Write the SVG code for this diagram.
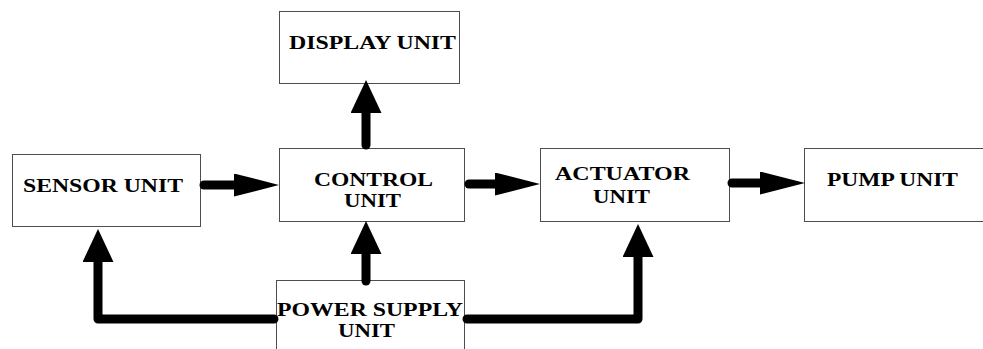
<svg xmlns="http://www.w3.org/2000/svg" width="983" height="349" viewBox="0 0 983 349">
<style>
.box{fill:#fff;stroke:#4d4d4d;stroke-width:1}
.lbl{font-family:"Liberation Serif","Times New Roman",serif;font-weight:bold;font-size:18px;fill:#000}
.wire{fill:none;stroke:#000;stroke-width:9;stroke-linecap:round;stroke-linejoin:round}
</style>
<defs>
<marker id="hh" markerUnits="userSpaceOnUse" viewBox="0 0 45 23" refX="5" refY="11.5" markerWidth="45" markerHeight="23" orient="auto">
<path d="M0,0 L45,11.5 L0,23 Z" fill="#000"/>
</marker>
<marker id="hv" markerUnits="userSpaceOnUse" viewBox="0 0 33 31" refX="5" refY="15.5" markerWidth="33" markerHeight="31" orient="auto">
<path d="M0,0 L33,15.5 L0,31 Z" fill="#000"/>
</marker>
</defs>
<rect width="983" height="349" fill="#fff"/>
<g id="display">
<rect class="box" x="279.5" y="11.5" width="180" height="72"/>
<text class="lbl" x="289" y="49" textLength="167" lengthAdjust="spacingAndGlyphs">DISPLAY UNIT</text>
</g>
<g id="sensor">
<rect class="box" x="12.5" y="154.5" width="188" height="72"/>
<text class="lbl" x="23" y="192" textLength="160" lengthAdjust="spacingAndGlyphs">SENSOR UNIT</text>
</g>
<g id="control">
<rect class="box" x="279.5" y="148.5" width="185" height="73"/>
<text class="lbl" x="314" y="186" textLength="119" lengthAdjust="spacingAndGlyphs">CONTROL</text>
<text class="lbl" x="344" y="207" textLength="57" lengthAdjust="spacingAndGlyphs">UNIT</text>
</g>
<g id="actuator">
<rect class="box" x="540.5" y="148.5" width="189" height="73"/>
<text class="lbl" x="555" y="180" textLength="135" lengthAdjust="spacingAndGlyphs">ACTUATOR</text>
<text class="lbl" x="593" y="203" textLength="57" lengthAdjust="spacingAndGlyphs">UNIT</text>
</g>
<g id="pump">
<rect class="box" x="804.5" y="148.5" width="182" height="73"/>
<text class="lbl" x="827" y="186" textLength="131" lengthAdjust="spacingAndGlyphs">PUMP UNIT</text>
</g>
<g id="power">
<rect class="box" x="276.5" y="280.5" width="188" height="80"/>
<text class="lbl" x="277" y="316" textLength="186" lengthAdjust="spacingAndGlyphs">POWER SUPPLY</text>
<text class="lbl" x="338" y="337" textLength="57" lengthAdjust="spacingAndGlyphs">UNIT</text>
</g>
<g id="connectors">
<path class="wire" d="M204,185 L239,185" marker-end="url(#hh)"/>
<path class="wire" d="M469,184 L500,184" marker-end="url(#hh)"/>
<path class="wire" d="M732,183 L765,183" marker-end="url(#hh)"/>
<path class="wire" d="M366,145 L366,108" marker-end="url(#hv)"/>
<path class="wire" d="M366,281 L366,249" marker-end="url(#hv)"/>
<path class="wire" d="M274,319 L98,319 L98,257" marker-end="url(#hv)"/>
<path class="wire" d="M467,319 L638,319 L638,252" marker-end="url(#hv)"/>
</g>
</svg>
